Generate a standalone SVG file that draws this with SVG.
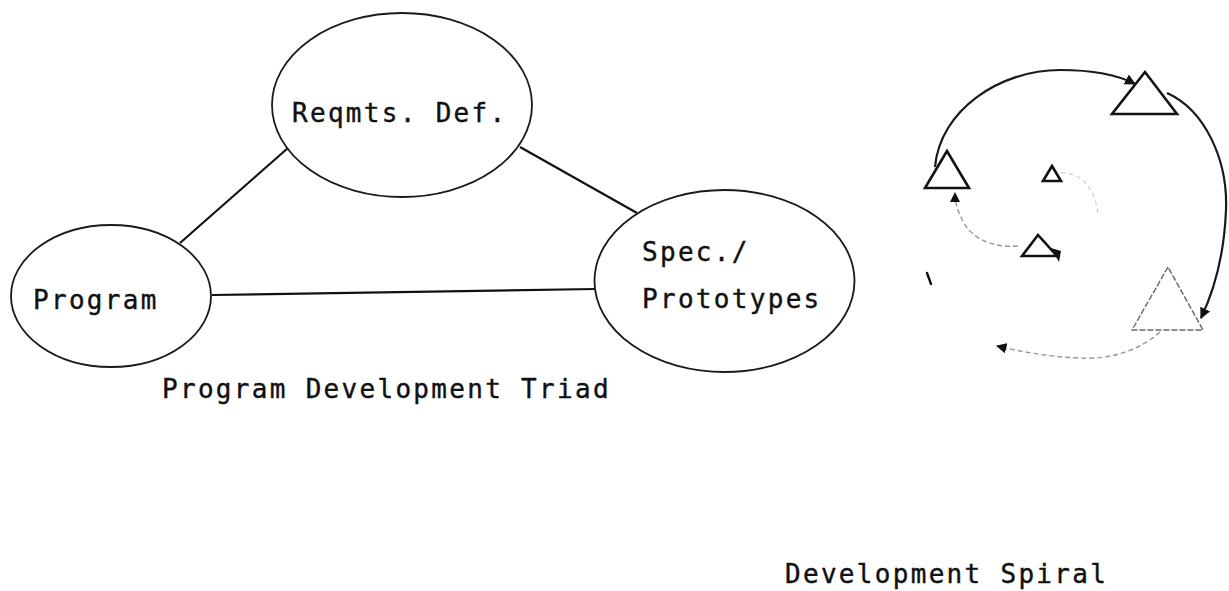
<svg xmlns="http://www.w3.org/2000/svg" width="1229" height="591" viewBox="0 0 1229 591">
<style>
.node{fill:none;stroke:#1a1a1a;stroke-width:1.8}
.lbl{font-family:"DejaVu Sans Mono","Liberation Mono",monospace;font-size:26px;letter-spacing:2.3px;fill:#111;stroke:#111;stroke-width:0.4}
.edge{stroke:#111;stroke-width:2.2;fill:none}
.tri{fill:none;stroke:#111;stroke-width:2.6;stroke-linejoin:miter}
.tri.faint{stroke:#666;stroke-width:1.4;stroke-dasharray:6 2}
.arc{fill:none;stroke:#1a1a1a;stroke-width:2.2}
.arc.faint{stroke:#999;stroke-width:1.4;stroke-dasharray:5 3}
.arc.vfaint{stroke:#c8c8c8;stroke-width:1.2;stroke-dasharray:4 4}
</style>
<defs>
<marker id="ah" viewBox="0 0 10 10" refX="9" refY="5" markerWidth="5" markerHeight="5" orient="auto" markerUnits="strokeWidth">
<path d="M0,0 L10,5 L0,10 z" fill="#111"/>
</marker>
<marker id="ahf" viewBox="0 0 10 10" refX="9" refY="5" markerWidth="7.5" markerHeight="7.5" orient="auto" markerUnits="strokeWidth">
<path d="M0,0 L10,5 L0,10 z" fill="#111"/>
</marker>
</defs>
<rect width="1229" height="591" fill="#fff"/>

<g id="connectors">
<line class="edge" x1="180" y1="243" x2="288" y2="148"/>
<line class="edge" x1="520" y1="147" x2="637" y2="213"/>
<line class="edge" x1="212" y1="295" x2="595" y2="289" stroke-width="1.8"/>
</g>

<g id="node-reqmts">
<ellipse class="node" cx="402" cy="105" rx="130" ry="92"/>
<text class="lbl" x="292" y="122">Reqmts. Def.</text>
</g>
<g id="node-program">
<ellipse class="node" cx="111" cy="296" rx="100" ry="71"/>
<text class="lbl" x="33" y="309">Program</text>
</g>
<g id="node-spec">
<ellipse class="node" cx="724.5" cy="281" rx="130" ry="91"/>
<text class="lbl" x="642" y="261">Spec./</text>
<text class="lbl" x="642" y="308">Prototypes</text>
</g>
<text class="lbl" x="162" y="398">Program Development Triad</text>

<g id="spiral">
<polygon class="tri" points="1145,72 1112,114 1177,114"/>
<polygon class="tri" points="947,151 925,188 969,188"/>
<polygon class="tri" points="1052,166 1043,181 1061,181"/>
<polygon class="tri" points="1038,235 1022,256 1057,256"/>
<polygon class="tri faint" points="1168,267 1132,330 1203,330"/>
<g id="spiral-arcs">
<path class="arc" d="M935,167 C940,110 1000,70 1060,70 C1095,70 1118,75 1135,84" marker-end="url(#ah)"/>
<path class="arc" d="M1167,93 C1205,110 1228,160 1226,210 C1224,260 1212,295 1201,318" marker-end="url(#ah)"/>
<path class="arc faint" d="M1160,332 C1140,350 1110,360 1080,358 C1050,357 1022,352 997,346" marker-end="url(#ahf)"/>
<path class="arc faint" d="M1018,246 C995,248 975,240 965,225 C958,213 955,203 955,193" marker-end="url(#ahf)"/>
<path class="arc vfaint" d="M1061,173 C1082,172 1096,190 1098,215"/>
<path d="M1051,248 L1061,251 L1059,262 z" fill="#111"/>
<line x1="927" y1="273" x2="931" y2="284" stroke="#111" stroke-width="2.4" stroke-linecap="round"/>
</g>
</g>
<text class="lbl" x="785" y="583">Development Spiral</text>
</svg>
